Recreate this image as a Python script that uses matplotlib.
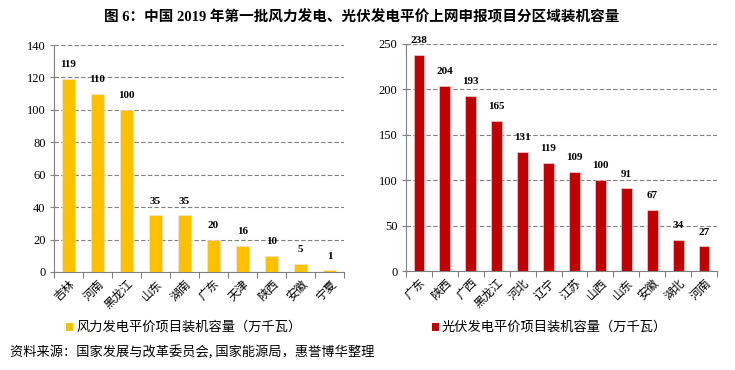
import matplotlib
matplotlib.use("Agg")
import matplotlib.pyplot as plt
import numpy as np
from matplotlib.patches import Rectangle

wind_regions = ["吉林", "河南", "黑龙江", "山东", "湖南", "广东", "天津", "陕西", "安徽", "宁夏"]
wind_values = [119, 110, 100, 35, 35, 20, 16, 10, 5, 1]
pv_regions = ["广东", "陕西", "广西", "黑龙江", "河北", "辽宁", "江苏", "山西", "山东", "安徽", "湖北", "河南"]
pv_values = [238, 204, 193, 165, 131, 119, 109, 100, 91, 67, 34, 27]
wind_ticks = [0, 20, 40, 60, 80, 100, 120, 140]
pv_ticks = [0, 50, 100, 150, 200, 250]

title = "图 6：中国 2019 年第一批风力发电、光伏发电平价上网申报项目分区域装机容量"
wind_legend = "风力发电平价项目装机容量（万千瓦）"
pv_legend = "光伏发电平价项目装机容量（万千瓦）"
source = "资料来源：国家发展与改革委员会, 国家能源局，惠誉博华整理"

CJK = ["Noto Sans CJK SC", "DejaVu Sans"]
MIX = ["Liberation Serif", "Noto Sans CJK SC", "DejaVu Sans"]
SERIF = ["Liberation Serif", "DejaVu Serif"]

fig = plt.figure(figsize=(7.35, 3.7), dpi=100)
fig.patch.set_facecolor("white")

def panel(rect, cats, vals, ticks, color, ymax, leg_text, leg_x):
    ax = fig.add_axes(rect)
    x = np.arange(len(cats))
    ax.bar(x, vals, width=0.42, color=color, edgecolor="#f6e6e6", linewidth=0.4, zorder=3)
    for xi, v in zip(x, vals):
        ax.annotate(str(v), (xi, v), xytext=(0, 7), textcoords="offset points",
                    ha="center", va="bottom", fontsize=8, fontweight="bold",
                    family=SERIF, color="black")
    ax.set_xlim(-0.5, len(cats) - 0.5)
    ax.set_ylim(0, ymax)
    ax.set_yticks(ticks)
    ax.set_yticklabels([str(t) for t in ticks], family=SERIF, fontsize=9)
    ax.set_xticks(np.arange(len(cats) + 1) - 0.5)
    ax.set_xticklabels([])
    ax.set_xticks(x, minor=True)
    ax.set_xticklabels(cats, minor=True, rotation=45, ha="right", va="top",
                       rotation_mode="anchor", family=CJK, fontsize=8.5)
    ax.tick_params(axis="x", which="minor", length=0, pad=4)
    ax.tick_params(axis="x", which="major", length=4, color="#808080", direction="out")
    ax.tick_params(axis="y", length=3, color="#808080", direction="out", pad=3)
    ax.yaxis.grid(True, linestyle=(0, (4, 2)), color="#808080", linewidth=0.8, zorder=0)
    ax.set_axisbelow(True)
    for s in ["top", "right"]:
        ax.spines[s].set_visible(False)
    for s in ["left", "bottom"]:
        ax.spines[s].set_color("#808080")
        ax.spines[s].set_linewidth(0.8)
    # legend
    fig.patches.append(Rectangle((leg_x / 735, 1 - 331 / 370), 7 / 735, 8 / 370,
                                 transform=fig.transFigure, facecolor=color,
                                 edgecolor="none", figure=fig))
    fig.text((leg_x + 10) / 735, 1 - 327 / 370, leg_text, family=CJK, fontsize=9.5,
             va="center", ha="left")
    return ax

panel([54 / 735, 1 - 272 / 370, 290 / 735, 227 / 370], wind_regions, wind_values,
      wind_ticks, "#FFC000", 140, wind_legend, 66)
panel([406 / 735, 1 - 271 / 370, 311 / 735, 227 / 370], pv_regions, pv_values,
      pv_ticks, "#C00000", 250, pv_legend, 432)

fig.text(362 / 735, 1 - 17 / 370, title, ha="center", va="center", fontsize=10.5,
         fontweight="bold", family=MIX)
fig.text(10 / 735, 1 - 353 / 370, source, ha="left", va="center", fontsize=9.5, family=CJK)

fig.savefig("out.png", dpi=100, facecolor="white")
